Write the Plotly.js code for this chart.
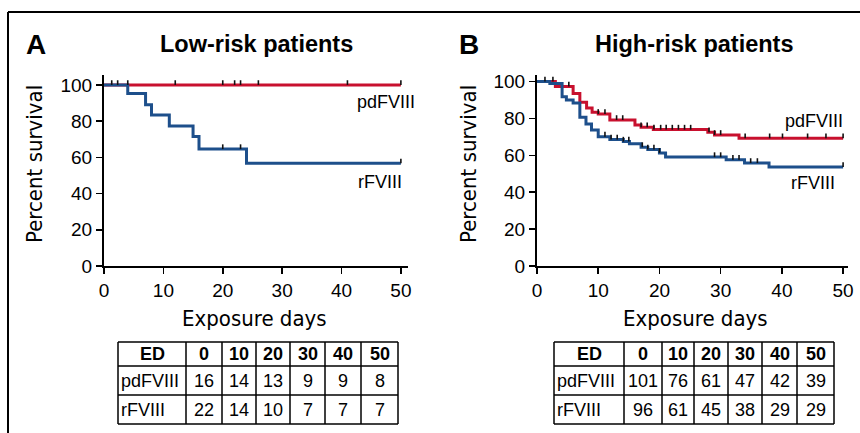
<!DOCTYPE html>
<html><head><meta charset="utf-8">
<script src="https://cdn.plot.ly/plotly-3.0.1.min.js"></script>
<style>html,body{margin:0;padding:0;background:#fff}#chart{width:860px;height:433px}</style>
</head><body><div id="chart"></div>
<script>
// ---------- Data ----------
// Panel A: low-risk patients (Kaplan-Meier steps)
const lowPdTimes = [0, 50];
const lowPdSurv = [100, 100];
const lowPdCensor = [1.3, 2.3, 4, 12, 20, 22, 23, 26, 41, 50];
const lowRTimes = [0, 4, 7, 8, 11, 15, 16, 24, 50];
const lowRSurv = [100, 95.3, 89.1, 83.4, 77.3, 71.5, 64.6, 56.7, 56.7];
const lowRCensor = [20, 23, 50];
// Panel B: high-risk patients
const highPdTimes = [0, 3, 5.9, 7, 8.1, 9, 10, 11.9, 16, 17, 19, 27.9, 29, 33, 50];
const highPdSurv = [100, 97.3, 93.5, 88.7, 85.6, 83.3, 82.4, 79.1, 76.4, 75.2, 73.9, 72.5, 71.0, 69.2, 69.2];
const highPdCensor = [1.3, 2.6, 5.2, 10, 11.1, 13, 14, 17, 18, 19.1, 20.2, 21.1, 22.1, 23.1, 24.1, 25.1, 28.1, 29, 30, 34, 38, 40.1, 44.2, 47.2, 50];
const highRTimes = [0, 2.1, 4.1, 4.8, 5.9, 7, 8, 8.9, 10, 11.9, 14.1, 15.1, 17, 18.1, 20, 21, 30.9, 33.9, 37.9, 50];
const highRSurv = [100, 98.9, 91.7, 89.9, 88.3, 80.6, 77.0, 73.7, 70.1, 68.5, 67.4, 66.2, 64.4, 63.1, 61.3, 59.0, 57.6, 55.8, 53.6, 53.6];
const highRCensor = [11.1, 12.1, 13.1, 14.1, 15, 17.2, 18.1, 19.1, 20, 29, 30, 32, 33, 34.9, 36, 50];
// Numbers at risk
const riskHeader = ['ED', '0', '10', '20', '30', '40', '50'];
const groupNames = ['pdFVIII', 'rFVIII'];
const lowRiskPd = [16, 14, 13, 9, 9, 8];
const lowRiskR = [22, 14, 10, 7, 7, 7];
const highRiskPd = [101, 76, 61, 47, 42, 39];
const highRiskR = [96, 61, 45, 38, 29, 29];

// ---------- Helpers ----------
const RED = '#c8102e', BLUE = '#1d4f8b';
const W = 860, H = 433;
const px = v => v / W, py = v => 1 - v / H;
const sans = 'Liberation Sans, Arial, Helvetica, sans-serif';
const narrow = 'Liberation Sans Narrow, Arial Narrow, DejaVu Sans Condensed, sans-serif';

function survAt(times, surv, t) {
  let s = surv[0];
  for (let i = 0; i < times.length; i++) if (times[i] <= t) s = surv[i];
  return s;
}
function curve(times, surv, color, xa, ya) {
  return {type: 'scatter', mode: 'lines', x: times, y: surv, xaxis: xa, yaxis: ya,
    line: {shape: 'hv', color: color, width: 3}, hoverinfo: 'skip', showlegend: false};
}
function censor(cens, times, surv, xa, ya) {
  return {type: 'scatter', mode: 'markers', x: cens, y: cens.map(t => survAt(times, surv, t)),
    xaxis: xa, yaxis: ya, marker: {size: 1, color: 'rgba(0,0,0,0)'},
    error_y: {type: 'constant', value: 2.6, valueminus: 0, symmetric: false, width: 0, thickness: 1.6, color: '#111'},
    hoverinfo: 'skip', showlegend: false, cliponaxis: false};
}

const shapes = [
  {type: 'line', xref: 'paper', yref: 'paper', x0: px(8), x1: px(8), y0: 0, y1: py(12), line: {color: '#000', width: 2}},
  {type: 'line', xref: 'paper', yref: 'paper', x0: px(8), x1: 1, y0: py(12), y1: py(12), line: {color: '#000', width: 2}}
];
const annotations = [];

function ann(text, x, y, font, extra) {
  return Object.assign({text: text, x: px(x), y: py(y), xref: 'paper', yref: 'paper', showarrow: false,
    xanchor: 'center', yanchor: 'middle', font: font}, extra || {});
}

// Numbers-at-risk table drawn with shapes + annotations
function riskTable(pd, r, x0, colW) {
  const rowH = [24, 29, 29];
  const y0 = 342;
  const xs = [x0];
  colW.forEach(w => xs.push(xs[xs.length - 1] + w));
  const ys = [y0];
  rowH.forEach(h => ys.push(ys[ys.length - 1] + h));
  const lineStyle = {color: '#000', width: 1.5};
  ys.forEach(y => shapes.push({type: 'line', xref: 'paper', yref: 'paper', x0: px(xs[0]), x1: px(xs[xs.length - 1]), y0: py(y), y1: py(y), line: lineStyle}));
  xs.forEach(x => shapes.push({type: 'line', xref: 'paper', yref: 'paper', x0: px(x), x1: px(x), y0: py(ys[0]), y1: py(ys[ys.length - 1]), line: lineStyle}));
  const rows = [riskHeader, [groupNames[0]].concat(pd), [groupNames[1]].concat(r)];
  rows.forEach((row, ri) => {
    const yc = (ys[ri] + ys[ri + 1]) / 2;
    row.forEach((val, ci) => {
      const txt = ri === 0 ? '<b>' + val + '</b>' : String(val);
      const font = {family: sans, size: 18, color: '#000'};
      if (ri > 0 && ci === 0) {
        annotations.push(ann(txt, xs[0] + 1, yc, font, {xanchor: 'left'}));
      } else {
        annotations.push(ann(txt, (xs[ci] + xs[ci + 1]) / 2, yc, font));
      }
    });
  });
}
riskTable(lowRiskPd, lowRiskR, 118, [68, 36, 34, 34, 35, 36, 37]);
riskTable(highRiskPd, highRiskR, 554, [70, 38, 32, 34, 34, 35, 37]);

const data = [
  curve(lowPdTimes, lowPdSurv, RED, 'x', 'y'),
  curve(lowRTimes, lowRSurv, BLUE, 'x', 'y'),
  censor(lowPdCensor, lowPdTimes, lowPdSurv, 'x', 'y'),
  censor(lowRCensor, lowRTimes, lowRSurv, 'x', 'y'),
  curve(highPdTimes, highPdSurv, RED, 'x2', 'y2'),
  curve(highRTimes, highRSurv, BLUE, 'x2', 'y2'),
  censor(highPdCensor, highPdTimes, highPdSurv, 'x2', 'y2'),
  censor(highRCensor, highRTimes, highRSurv, 'x2', 'y2')
];

const tickFont = {family: sans, size: 19, color: '#000'};
const labelFont = {family: sans, size: 18, color: '#000'};
const axBase = {showline: true, linecolor: '#000', linewidth: 2, ticks: 'outside', ticklen: 6, tickwidth: 1.5,
  tickcolor: '#000', showgrid: false, zeroline: false, tickfont: tickFont, fixedrange: true};
const yDom = [py(266), py(75)];

annotations.push(
  ann('<b>A</b>', 36, 45, {family: sans, size: 28, color: '#000'}),
  ann('<b>Low-risk patients</b>', 256, 44, {family: sans, size: 23.5, color: '#000'}),
  ann('<b>B</b>', 469, 45, {family: sans, size: 28, color: '#000'}),
  ann('<b>High-risk patients</b>', 694, 44, {family: sans, size: 23.5, color: '#000'}),
  ann('Percent survival', 34, 164, {family: narrow, size: 22, color: '#000'}, {textangle: -90}),
  ann('Percent survival', 468, 164, {family: narrow, size: 22, color: '#000'}, {textangle: -90}),
  ann('Exposure days', 254, 318, {family: narrow, size: 22, color: '#000'}),
  ann('Exposure days', 695, 318, {family: narrow, size: 22, color: '#000'}),
  ann('pdFVIII', 417, 102, labelFont, {xanchor: 'right'}),
  ann('rFVIII', 404, 182, labelFont, {xanchor: 'right'}),
  ann('pdFVIII', 845, 121, labelFont, {xanchor: 'right'}),
  ann('rFVIII', 837, 183, labelFont, {xanchor: 'right'})
);

const layout = {
  width: W, height: H, margin: {l: 0, r: 0, t: 0, b: 0},
  paper_bgcolor: '#fff', plot_bgcolor: 'rgba(0,0,0,0)', showlegend: false,
  xaxis: Object.assign({}, axBase, {domain: [px(104), px(408)], range: [0, 51.2], tickvals: [0, 10, 20, 30, 40, 50], anchor: 'y'}),
  yaxis: Object.assign({}, axBase, {domain: yDom, range: [0, 105.5], tickvals: [0, 20, 40, 60, 80, 100], anchor: 'x'}),
  xaxis2: Object.assign({}, axBase, {domain: [px(537), px(848)], range: [0, 50.8], tickvals: [0, 10, 20, 30, 40, 50], anchor: 'y2'}),
  yaxis2: Object.assign({}, axBase, {domain: yDom, range: [0, 103.5], tickvals: [0, 20, 40, 60, 80, 100], anchor: 'x2'}),
  annotations: annotations,
  shapes: shapes
};

Plotly.newPlot('chart', data, layout, {displayModeBar: false, staticPlot: true});
</script>
</body></html>
